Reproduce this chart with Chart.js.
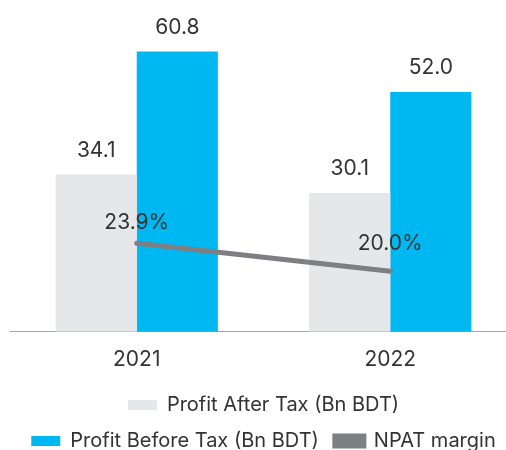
<!DOCTYPE html>
<html>
<head>
<meta charset="utf-8">
<script src="https://cdn.jsdelivr.net/npm/chart.js@4/dist/chart.umd.min.js"></script>
<style>
  html, body { margin: 0; padding: 0; background: #fff; overflow: hidden; }
  #wrap { width: 527px; height: 461px; }
</style>
</head>
<body>
<div id="wrap"><canvas id="graph" width="527" height="461"></canvas></div>
<script>
// data
const years = ["2021", "2022"];
const profitAfterTax = [34.1, 30.1];
const profitBeforeTax = [60.8, 52.0];
const npatMargin = [23.9, 20.0];

const FONT = "Inter, 'Noto Sans', sans-serif";
const TEXT = "#333333";

// draws the value labels above bars and line points
const valueLabels = {
  id: "valueLabels",
  afterDatasetsDraw(chart) {
    const ctx = chart.ctx;
    ctx.save();
    ctx.font = "21px " + FONT;
    ctx.fillStyle = TEXT;
    ctx.textAlign = "center";
    ctx.textBaseline = "middle";
    chart.data.datasets.forEach((ds, i) => {
      chart.getDatasetMeta(i).data.forEach((el, j) => {
        const v = ds.data[j];
        const isLine = ds.type === "line";
        const txt = isLine ? v.toFixed(1) + "%" : v.toFixed(1);
        const off = isLine ? (j === 0 ? 20 : 28) : 24;
        ctx.fillText(txt, el.x, el.y - off);
      });
    });
    ctx.restore();
  }
};

new Chart(document.getElementById("graph"), {
  data: {
    labels: years,
    datasets: [
      {
        type: "bar",
        label: "Profit After Tax (Bn BDT)",
        data: profitAfterTax,
        backgroundColor: "#e6e7e8",
        barPercentage: 1,
        categoryPercentage: 0.64,
        yAxisID: "y",
        order: 1
      },
      {
        type: "bar",
        label: "Profit Before Tax (Bn BDT)",
        data: profitBeforeTax,
        backgroundColor: "#00b8f1",
        barPercentage: 1,
        categoryPercentage: 0.64,
        yAxisID: "y",
        order: 1
      },
      {
        type: "line",
        label: "NPAT margin",
        data: npatMargin,
        borderColor: "#7e7f83",
        backgroundColor: "#7e7f83",
        borderWidth: 5,
        borderCapStyle: "round",
        pointRadius: 0,
        yAxisID: "y1",
        order: 0
      }
    ]
  },
  options: {
    responsive: false,
    animation: false,
    layout: { padding: { top: 9, left: 10, right: 10, bottom: 0 } },
    scales: {
      x: {
        grid: { display: false },
        border: { display: true, color: "#a6a6a6", width: 1 },
        ticks: { color: TEXT, font: { family: FONT, size: 21 }, padding: 7 }
      },
      y: { display: false, min: 0, max: 70 },
      y1: { display: false, min: 11.6, max: 56.4 }
    },
    plugins: {
      tooltip: { enabled: false },
      legend: {
        position: "bottom",
        labels: {
          color: TEXT,
          font: { family: FONT, size: 20 },
          boxWidth: 29,
          boxHeight: 10,
          padding: 16,
          sort: (a, b) => a.datasetIndex - b.datasetIndex
        }
      }
    }
  },
  plugins: [valueLabels]
});
</script>
</body>
</html>
